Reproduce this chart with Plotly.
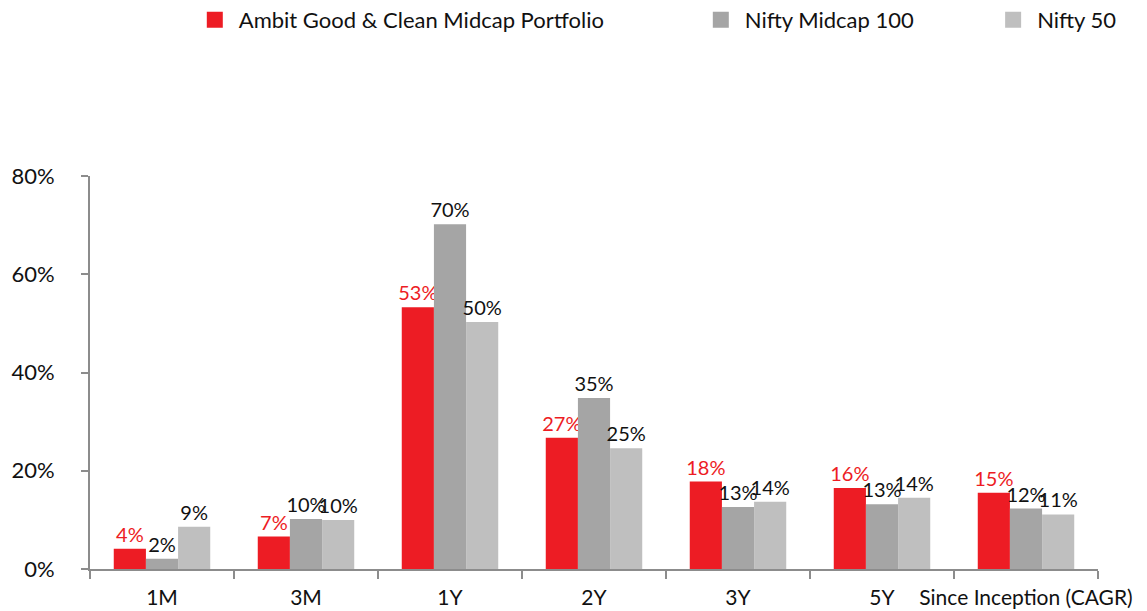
import plotly.graph_objects as go

categories = ["1M", "3M", "1Y", "2Y", "3Y", "5Y", "Since Inception (CAGR)"]
ambit = [4.1, 6.6, 53.3, 26.7, 17.8, 16.5, 15.5]
midcap = [2.1, 10.2, 70.2, 34.8, 12.6, 13.2, 12.3]
nifty50 = [8.6, 10.0, 50.3, 24.6, 13.7, 14.5, 11.1]
labels_ambit = ["4%", "7%", "53%", "27%", "18%", "16%", "15%"]
labels_midcap = ["2%", "10%", "70%", "35%", "13%", "13%", "12%"]
labels_nifty = ["9%", "10%", "50%", "25%", "14%", "14%", "11%"]
yticks = [0, 20, 40, 60, 80]
yticklabels = ["0%", "20%", "40%", "60%", "80%"]

FONT = "Lato"

fig = go.Figure()
series = [
    ("Ambit Good & Clean Midcap Portfolio", ambit, labels_ambit, "#ED1C24", "#ED1C24", "legend", 0.100),
    ("Nifty Midcap 100", midcap, labels_midcap, "#A5A5A5", "#111111", "legend2", 0.602),
    ("Nifty 50", nifty50, labels_nifty, "#BFBFBF", "#111111", "legend3", 0.892),
]
legends = {}
for name, vals, labs, color, tcolor, lg, lx in series:
    fig.add_trace(go.Bar(
        name=name, x=categories, y=vals, text=labs,
        textposition="outside", cliponaxis=False, constraintext="none",
        textfont=dict(family=FONT, size=20, color=tcolor),
        marker=dict(color=color, line=dict(width=0)),
        showlegend=False,
    ))
    # legend entry (square swatch) for the series
    fig.add_trace(go.Scatter(
        name=name, x=[None], y=[None], mode="markers",
        marker=dict(symbol="square", size=22, color=color),
        legend=lg, showlegend=True, hoverinfo="skip",
    ))
    legends[lg] = dict(orientation="h", x=lx, xref="paper", xanchor="left",
                       y=1.397, yref="paper", yanchor="middle",
                       font=dict(family=FONT, size=22, color="#111111"),
                       itemwidth=38, bgcolor="rgba(0,0,0,0)")

fig.update_layout(
    width=1139, height=603,
    margin=dict(l=82, r=49, t=168, b=42, autoexpand=False),
    paper_bgcolor="white", plot_bgcolor="white",
    barmode="group", bargap=0.33, bargroupgap=0,
    font=dict(family=FONT, size=18, color="#111111"),
    showlegend=True,
    **legends,
    xaxis=dict(type="category", showline=True, linecolor="#8C8C8C", linewidth=2,
               ticks="outside", tickson="boundaries", ticklen=8, tickcolor="#8C8C8C",
               tickwidth=1.5, showgrid=False, zeroline=False, tickangle=0,
               automargin=False, ticklabelstandoff=9,
               tickfont=dict(family=FONT, size=21, color="#111111")),
    yaxis=dict(range=[0, 80], tickvals=yticks, ticktext=yticklabels,
               showline=True, linecolor="#8C8C8C", linewidth=2,
               ticks="outside", ticklen=7, tickcolor="#8C8C8C", tickwidth=1.5,
               showgrid=False, zeroline=False, ticklabelstandoff=22,
               automargin=False,
               tickfont=dict(family=FONT, size=22, color="#111111")),
)

fig.write_html("out.html")
